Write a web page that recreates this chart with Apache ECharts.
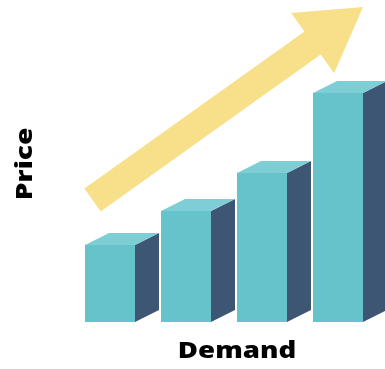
<!DOCTYPE html>
<html><head><meta charset="utf-8">
<script src="https://cdn.jsdelivr.net/npm/echarts@6/dist/echarts.min.js"></script>
<style>html,body{margin:0;padding:0;background:#fff}#c{width:385px;height:369px}</style>
</head><body><div id="c"></div>
<script>
// Data
var categories = ['A', 'B', 'C', 'D'];
var demandValues = [77, 111, 149, 229];
// trend arrow: [x position on band scale, y value]
var arrowTail = [0.27, 122];
var arrowTip = [3.83, 315];
var xTitle = 'Demand';
var yTitle = 'Price';

var FRONT = '#67C3CB', SIDE = '#3D5673', TOP = '#7DCFD5', YELLOW = '#F8E08B';
var BAR_W = 50, DX = 24, DY = -12;

var chart = echarts.init(document.getElementById('c'), null, {renderer: 'canvas'});

function barItem(params, api) {
  var c = api.coord([api.value(0), api.value(1)]);
  var b = api.coord([api.value(0), 0]);
  var x0 = c[0] - BAR_W / 2, x1 = c[0] + BAR_W / 2, yT = c[1], yB = b[1];
  return {
    type: 'group',
    children: [
      {type: 'polygon', shape: {points: [[x1, yT], [x1 + DX, yT + DY], [x1 + DX, yB + DY], [x1, yB]]}, style: {fill: SIDE}},
      {type: 'polygon', shape: {points: [[x0, yT], [x0 + DX, yT + DY], [x1 + DX, yT + DY], [x1, yT]]}, style: {fill: TOP}},
      {type: 'rect', shape: {x: x0, y: yT, width: BAR_W, height: yB - yT}, style: {fill: FRONT}}
    ]
  };
}

function arrowItem(params, api) {
  if (params.dataIndex !== 0) return null;
  var t = api.coord([arrowTail[0], arrowTail[1]]);
  var h = api.coord([arrowTip[0], arrowTip[1]]);
  var dx = h[0] - t[0], dy = h[1] - t[1];
  var L = Math.sqrt(dx * dx + dy * dy);
  var ux = dx / L, uy = dy / L, nx = -uy, ny = ux;
  var sw = 14, hw = 37, hl = 62;
  var bx = h[0] - ux * hl, by = h[1] - uy * hl;
  var pts = [
    [t[0] + nx * sw, t[1] + ny * sw],
    [bx + nx * sw, by + ny * sw],
    [bx + nx * hw, by + ny * hw],
    [h[0], h[1]],
    [bx - nx * hw, by - ny * hw],
    [bx - nx * sw, by - ny * sw],
    [t[0] - nx * sw, t[1] - ny * sw]
  ];
  return {type: 'polygon', shape: {points: pts}, style: {fill: YELLOW}};
}

chart.setOption({
  animation: false,
  grid: {left: 72, top: 0, width: 304, height: 322},
  xAxis: [
    {type: 'category', data: categories, show: false, boundaryGap: true},
    {type: 'value', min: 0, max: 4, show: false}
  ],
  yAxis: {type: 'value', min: 0, max: 322, show: false},
  graphic: [
    {type: 'text', x: 237, y: 351, scaleX: 1.2,
      style: {text: xTitle, font: '800 23px "Open Sans"', fill: '#000', align: 'center', verticalAlign: 'middle'}},
    {type: 'text', x: 25, y: 164, rotation: Math.PI / 2, scaleX: 1.22,
      style: {text: yTitle, font: '800 23px "Open Sans"', fill: '#000', align: 'center', verticalAlign: 'middle'}}
  ],
  series: [
    {type: 'custom', xAxisIndex: 1, renderItem: arrowItem, data: [[0]], clip: false, z: 1},
    {type: 'custom', xAxisIndex: 0, renderItem: barItem, clip: false, z: 2,
      data: demandValues.map(function (v, i) { return [i, v]; })}
  ]
});
</script></body></html>
